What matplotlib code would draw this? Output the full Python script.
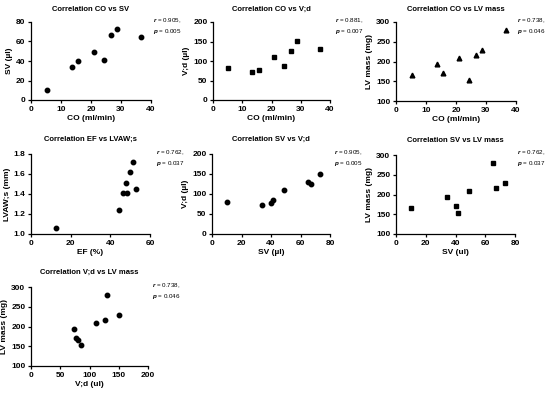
import matplotlib.pyplot as plt

plt.rcParams['font.family'] = ['Liberation Sans', 'DejaVu Sans']
plt.rcParams['font.weight'] = 'bold'
plt.rcParams['axes.labelweight'] = 'bold'
plt.rcParams['axes.titleweight'] = 'bold'
plt.rcParams['mathtext.fontset'] = 'custom'
plt.rcParams['mathtext.it'] = 'Liberation Sans:italic'

# Dati (8 animali)
co = [5.2, 13.5, 15.8, 21.0, 24.2, 26.5, 28.8, 36.7]
sv = [10, 34, 40, 49, 41.5, 67, 73, 65]
vd = [81, 73, 77, 111, 86, 126, 151, 130]
lv_mass = [167, 194, 171, 209, 152, 216, 230, 281]
ef = [12.5, 44.5, 46.5, 48.0, 48.5, 50.0, 51.5, 53.0]
lvaws = [1.06, 1.24, 1.41, 1.51, 1.41, 1.62, 1.72, 1.45]

r_vals = ["0.905", "0.881", "0.738", "0.762", "0.905", "0.762", "0.738"]
p_vals = ["0.005", "0.007", "0.046", "0.037", "0.005", "0.037", "0.046"]

W, H = 550, 394
fig = plt.figure(figsize=(W / 100, H / 100), dpi=100)

def box(x0, y_top, x1, y_bot):
  return [x0 / W, 1 - y_bot / H, (x1 - x0) / W, (y_bot - y_top) / H]

panels = [
  # x, y, titolo, xlabel, ylabel, marker, xlim, xticks, ylim, yticks, rect, posizione nota, pad titolo
  (co, sv, "Correlation CO vs SV", "CO (ml/min)", "SV (µl)", 'o',
   (0, 40), range(0, 41, 10), (0, 80), range(0, 81, 20), box(31, 22, 151, 100), (153, 17), 8),
  (co, vd, "Correlation CO vs V;d", "CO (ml/min)", "V;d (µl)", 's',
   (0, 40), range(0, 41, 10), (0, 200), range(0, 201, 50), box(213, 22, 330, 100), (335, 17), 8),
  (co, lv_mass, "Correlation CO vs LV mass", "CO (ml/min)", "LV mass (mg)", '^',
   (0, 40), range(0, 41, 10), (100, 300), range(100, 301, 50), box(396, 22, 516, 101), (517, 17), 8),
  (ef, lvaws, "Correlation EF vs LVAW;s", "EF (%)", "LVAW;s (mm)", 'o',
   (0, 60), range(0, 61, 20), (1.0, 1.8), [1.0, 1.2, 1.4, 1.6, 1.8], box(31, 154, 150, 234), (156, 149), 9.5),
  (sv, vd, "Correlation SV vs V;d", "SV (µl)", "V;d (µl)", 'o',
   (0, 80), range(0, 81, 20), (0, 200), range(0, 201, 50), box(212, 154, 330, 234), (334, 149), 9.5),
  (sv, lv_mass, "Correlation SV vs LV mass", "SV (ul)", "LV mass (mg)", 's',
   (0, 80), range(0, 81, 20), (100, 300), range(100, 301, 50), box(396, 155, 515, 234), (517, 149), 9.5),
  (vd, lv_mass, "Correlation V;d vs LV mass", "V;d (ul)", "LV mass (mg)", 'o',
   (0, 200), range(0, 201, 50), (100, 300), range(100, 301, 50), box(31, 287, 148, 366), (152, 282), 9.5),
]

for i, (x, y, title, xl, yl, mk, xlim, xt, ylim, yt, rect, note, tpad) in enumerate(panels):
  ax = fig.add_axes(rect)
  ms = 3.2 if mk != '^' else 3.4
  ax.plot(x, y, linestyle='none', marker=mk, color='black', markersize=ms, clip_on=False)
  ax.set_xlim(*xlim)
  ax.set_ylim(*ylim)
  ax.set_xticks(list(xt))
  ax.set_yticks(list(yt))
  if ylim[1] < 5:
    ax.set_yticklabels([f"{v:.1f}" for v in yt])
  ax.spines['top'].set_visible(False)
  ax.spines['right'].set_visible(False)
  for s in ['left', 'bottom']:
    ax.spines[s].set_linewidth(0.9)
  ax.tick_params(length=2.5, width=0.9, labelsize=6, pad=1.5)
  ax.set_xlabel(xl, fontsize=6, labelpad=2)
  ax.set_ylabel(yl, fontsize=6, labelpad=2)
  ax.set_title(title, fontsize=5.5, pad=tpad)
  fig.text(note[0] / W, 1 - note[1] / H, f"$r$ = {r_vals[i]},\n$p$ = {p_vals[i]}",
           fontsize=4.5, fontweight='normal', va='top', ha='left', linespacing=1.2)

plt.savefig('out.png', dpi=100)
